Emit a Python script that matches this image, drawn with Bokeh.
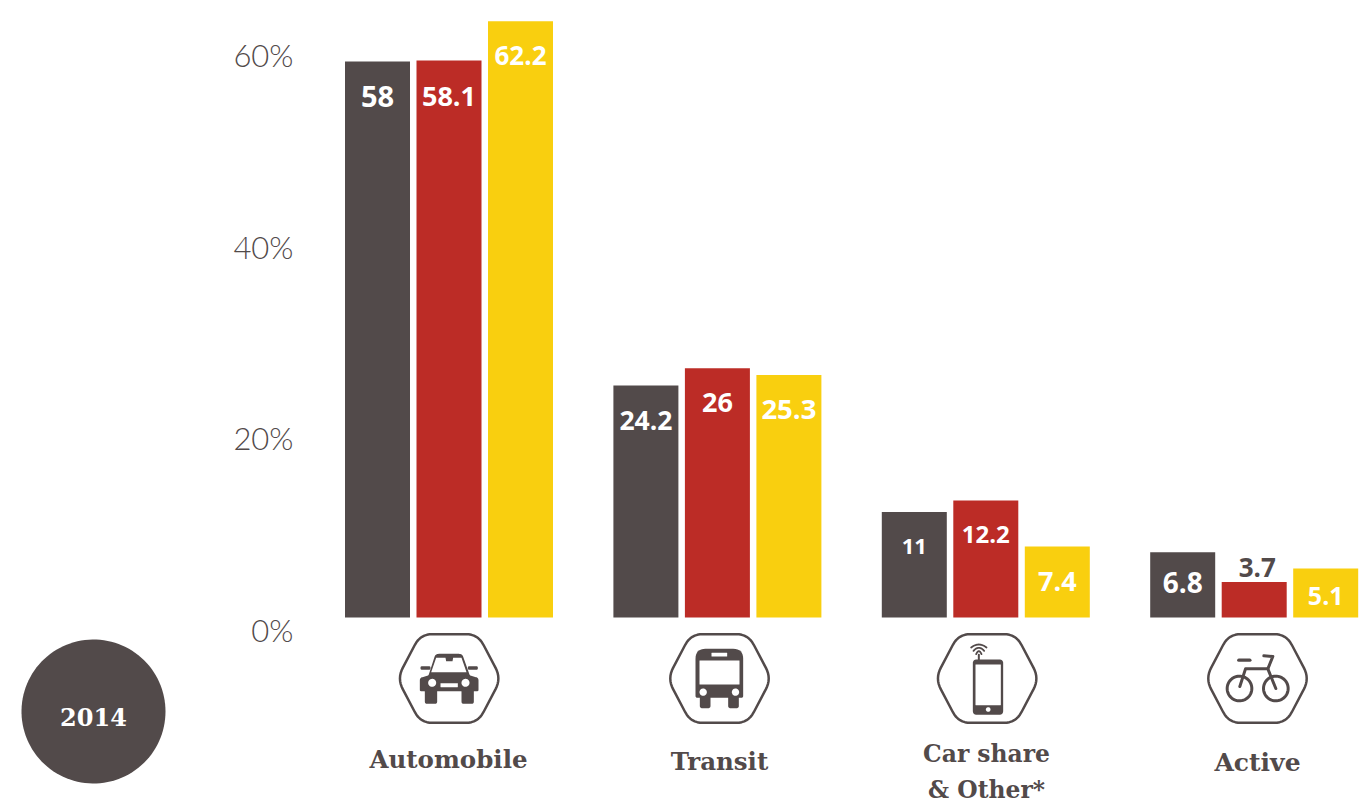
import numpy as np
from bokeh.plotting import figure
from bokeh.models import Range1d, LinearAxis, FixedTicker, PrintfTickFormatter
from bokeh.core.properties import value
from bokeh.embed import file_html
from bokeh.resources import INLINE

# ---- data ----
categories = ["Automobile", "Transit", "Car share\n& Other*", "Active"]
series_dark = [58, 24.2, 11, 6.8]
series_red = [58.1, 26, 12.2, 3.7]
series_yellow = [62.2, 25.3, 7.4, 5.1]
labels_dark = ["58", "24.2", "11", "6.8"]
labels_red = ["58.1", "26", "12.2", "3.7"]
labels_yellow = ["62.2", "25.3", "7.4", "5.1"]
y_ticks = [0, 20, 40, 60]
year = "2014"

# ---- style ----
DARK, RED, YELLOW = "#524a4a", "#bc2c26", "#f9cf0f"
W, H = 1372, 803
PX_PER_UNIT = 9.586      # pixels per percentage point
BASE_Y = 617             # pixel row of 0 %
GROUP_STEP = 268.4
FIRST_X = 448.5
SLAB = value("DejaVu Serif")
NUM = value("Open Sans")

p = figure(width=W, height=H, output_backend="svg", toolbar_location=None,
           x_axis_location=None, y_axis_location=None,
           x_range=Range1d(-FIRST_X / GROUP_STEP, (W - FIRST_X) / GROUP_STEP),
           y_range=Range1d(-(H - BASE_Y) / PX_PER_UNIT, BASE_Y / PX_PER_UNIT),
           min_border=0, min_border_left=0, min_border_right=0, min_border_top=0,
           min_border_bottom=0)
p.outline_line_color = None
p.grid.visible = False
p.background_fill_color = "white"
p.border_fill_color = "white"

# pixel space for decoration, tick labels sit below their true level
LABEL_SHIFT = 12.5 / PX_PER_UNIT
p.extra_x_ranges["px"] = Range1d(0, W)
p.extra_y_ranges["px"] = Range1d(H, 0)
p.extra_y_ranges["ticks"] = Range1d(p.y_range.start + LABEL_SHIFT, p.y_range.end + LABEL_SHIFT)

axis = LinearAxis(y_range_name="ticks", ticker=FixedTicker(ticks=y_ticks),
                  formatter=PrintfTickFormatter(format="%d%%"),
                  axis_line_color=None, major_tick_line_color=None, minor_tick_line_color=None,
                  major_label_text_font="Lato Light", major_label_text_font_size="31px",
                  major_label_text_color=DARK, major_label_standoff=1,
                  fixed_location=(300 - FIRST_X) / GROUP_STEP)
p.add_layout(axis, "left")

# ---- bars ----
OFFSET = 71.5 / GROUP_STEP
BAR_W = 65 / GROUP_STEP
idx = np.arange(len(categories))
for shift, vals, col in [(-OFFSET, series_dark, DARK), (0, series_red, RED), (OFFSET, series_yellow, YELLOW)]:
    p.vbar(x=idx + shift, top=vals, width=BAR_W, bottom=0, fill_color=col, line_color=None)

# bar labels: pixels below the bar's top (negative = above) and font px
label_style = {
    "dark": ([35, 35, 34, 30], [29, 26.5, 22, 28], "white"),
    "red": ([36, 34, 34, -15], [27, 27, 24, 26], "white"),
    "yellow": ([34, 35, 35, 27], [26, 27.5, 27, 25], "white"),
}
for shift, vals, labs, key in [(-OFFSET, series_dark, labels_dark, "dark"),
                               (0, series_red, labels_red, "red"),
                               (OFFSET, series_yellow, labels_yellow, "yellow")]:
    offs, sizes, col = label_style[key]
    for i in idx:
        above = labs[i] == "3.7"
        p.text(x=[i + shift], y=[vals[i]], text=[labs[i]], text_font=NUM, text_font_style="bold",
               text_font_size=f"{sizes[i]}px", text_color=DARK if above else col, text_align="center",
               text_baseline="middle", y_offset=offs[i], x_offset=3 if above else 0)

# ---- decoration in pixel space ----
PX = dict(x_range_name="px", y_range_name="px")


def rounded(points, r):
    pts = np.array(points, float)
    n = len(pts)
    rs = r if np.iterable(r) else [r] * n
    out = []
    for i in range(n):
        a, b, c = pts[i - 1], pts[i], pts[(i + 1) % n]
        ri = rs[i]
        if ri == 0:
            out.append(b)
            continue
        u = (a - b) / np.linalg.norm(a - b)
        v = (c - b) / np.linalg.norm(c - b)
        s, e = b + u * ri, b + v * ri
        for t in np.linspace(0, 1, 9):
            out.append((1 - t) ** 2 * s + 2 * t * (1 - t) * b + t ** 2 * e)
    return np.array(out)


def rrect(x0, y0, x1, y1, r):
    return rounded([(x0, y0), (x1, y0), (x1, y1), (x0, y1)], r)


def fill(pts, origin, color=DARK):
    p.patch((pts[:, 0]) / 3 + origin[0], pts[:, 1] / 3 + origin[1], fill_color=color, line_color=None, **PX)


def stroke(pts, origin, width=2.6):
    pts = np.array(pts, float)
    p.line(pts[:, 0] / 3 + origin[0], pts[:, 1] / 3 + origin[1], line_color=DARK, line_width=width,
           line_cap="round", line_join="round", **PX)


def disc(cx, cy, r, origin, color="white"):
    t = np.linspace(0, 2 * np.pi, 48)
    fill(np.c_[cx + r * np.cos(t), cy + r * np.sin(t)], origin, color)


def hexagon(cx, cy, origin):
    pts = rounded([(cx - 156, cy), (cx - 86, cy - 133), (cx + 86, cy - 133), (cx + 156, cy),
                   (cx + 86, cy + 133), (cx - 86, cy + 133)], 36)
    pts = np.vstack([pts, pts[:1]])
    stroke(pts, origin, 2.5)


O1 = (380, 620)
O2 = (920, 620)

# car
hexagon(206, 174, O1)
fill(rounded([(165, 100), (245, 100), (268, 165), (294, 172), (294, 212), (118, 212), (118, 172), (144, 165)],
             [10, 10, 4, 8, 4, 4, 8, 4]), O1)
fill(rrect(133, 205, 170, 250, 7), O1)
fill(rrect(243, 205, 280, 250, 7), O1)
fill(rrect(120, 137, 150, 148, 5), O1)
fill(rrect(262, 137, 292, 148, 5), O1)
fill(np.array([(167, 112), (195, 112), (197, 122), (216, 122), (218, 112), (243, 112), (258, 155), (152, 155)], float), O1, "white")
disc(155, 187, 12, O1)
disc(255, 187, 12, O1)
fill(rrect(180, 188, 232, 200, 1), O1, "white")

# bus
hexagon(1017, 174, O1)
fill(rounded([(945, 85), (1088, 85), (1088, 232), (945, 232)], [30, 30, 6, 6]), O1)
fill(rrect(958, 225, 990, 263, 7), O1)
fill(rrect(1043, 225, 1075, 263, 7), O1)
fill(rrect(957, 120, 1077, 192, 1), O1, "white")
fill(rrect(993, 97, 1040, 108, 1), O1, "white")
disc(968, 215, 11, O1)
disc(1065, 215, 11, O1)

# phone
hexagon(200, 174, O2)
fill(rrect(157, 117, 248, 283, 12), O2)
fill(rrect(165, 132, 241, 254, 1), O2, "white")
disc(203, 267, 7, O2)
stroke([(175, 103), (175, 118)], O2, 2)
for half, top in [(23, 72), (16, 82), (8, 92)]:
    t = np.linspace(-1, 1, 15)
    stroke(np.c_[175 + half * t, top + 9 * t ** 2], O2, 1.8)

# bicycle
hexagon(1011, 174, O2)
for cx in (957, 1066):
    t = np.linspace(0, 2 * np.pi, 60)
    stroke(np.c_[cx + 37 * np.cos(t), 204 + 37 * np.sin(t)], O2, 3)
stroke([(958, 198), (975, 145), (1042, 145), (1066, 204)], O2, 3)
stroke([(1042, 145), (1057, 108), (1030, 106)], O2, 3)
stroke([(955, 119), (988, 119)], O2, 3.4)

# year badge
t = np.linspace(0, 2 * np.pi, 120)
p.patch(93 + 72 * np.cos(t), 711 + 72 * np.sin(t), fill_color=DARK, line_color=None, **PX)
p.text(x=[93], y=[716], text=[year], text_font=SLAB, text_font_style="bold", text_font_size="24px",
       text_color="white", text_align="center", text_baseline="middle", **PX)

# category labels
cat_x = [448, 719, 986, 1257]
cat_y = [759, 761, 753, 762]
cat_size = ["24.5px", "24.5px", "23.4px", "25px"]
LINE_GAP = 36
for i, name in enumerate(categories):
    for k, line in enumerate(name.split("\n")):
        p.text(x=[cat_x[i]], y=[cat_y[i] + k * LINE_GAP], text=[line], text_font=SLAB, text_font_style="bold",
               text_font_size=cat_size[i], text_color=DARK, text_align="center", text_baseline="middle", **PX)

open("out.html", "w").write(file_html(p, INLINE))
